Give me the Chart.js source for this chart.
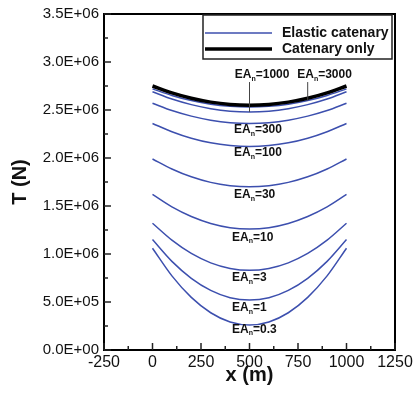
<!DOCTYPE html>
<html>
<head>
<meta charset="utf-8">
<script src="https://cdn.jsdelivr.net/npm/chart.js@4/dist/chart.umd.min.js"></script>
<style>
  html, body { margin: 0; padding: 0; background: #fff; }
  #wrap { width: 418px; height: 398px; }
</style>
</head>
<body>
<div id="wrap"><canvas id="c"></canvas></div>
<script>
// x positions along the line (m)
var xPos = [0, 100, 200, 300, 400, 500, 600, 700, 800, 900, 1000];

// tension, in units of 1E+06 N
var tCatenary = [2.75, 2.678, 2.622, 2.582, 2.558, 2.55, 2.558, 2.582, 2.622, 2.678, 2.75];
var tEA3000   = [2.72, 2.652, 2.598, 2.56, 2.538, 2.53, 2.538, 2.56, 2.598, 2.652, 2.72];
var tEA1000   = [2.69, 2.614, 2.556, 2.514, 2.488, 2.48, 2.488, 2.514, 2.556, 2.614, 2.69];
var tEA300    = [2.57, 2.494, 2.436, 2.394, 2.368, 2.36, 2.368, 2.394, 2.436, 2.494, 2.57];
var tEA100    = [2.36, 2.274, 2.206, 2.158, 2.13, 2.12, 2.13, 2.158, 2.206, 2.274, 2.36];
var tEA30     = [1.99, 1.886, 1.804, 1.746, 1.712, 1.70, 1.712, 1.746, 1.804, 1.886, 1.99];
var tEA10     = [1.62, 1.49, 1.39, 1.318, 1.274, 1.26, 1.274, 1.318, 1.39, 1.49, 1.62];
var tEA3      = [1.32, 1.144, 1.006, 0.908, 0.85, 0.83, 0.85, 0.908, 1.006, 1.144, 1.32];
var tEA1      = [1.15, 0.923, 0.747, 0.621, 0.545, 0.52, 0.545, 0.621, 0.747, 0.923, 1.15];
var tEA03     = [1.06, 0.772, 0.548, 0.388, 0.292, 0.26, 0.292, 0.388, 0.548, 0.772, 1.06];

var eaNames  = ['3000', '1000', '300', '100', '30', '10', '3', '1', '0.3'];
var eaSeries = [tEA3000, tEA1000, tEA300, tEA100, tEA30, tEA10, tEA3, tEA1, tEA03];

// curve labels: x (m) of left edge, T (N) of label centre line
var labelX = [746, 424, 420, 420, 420, 410, 410, 410, 410];
var labelT = [2.864e6, 2.864e6, 2.295e6, 2.053e6, 1.615e6, 1.173e6, 0.753e6, 0.442e6, 0.214e6];
// pointers: label index -> x of the point on its curve
var pointerAt = { 0: 800, 1: 500 };

var legendNames = ['Elastic catenary', 'Catenary only'];

var BLUE = '#3c4fae';
var FONT = '"Liberation Sans", Arial, sans-serif';

function toPts(arr) {
  return arr.map(function (t, i) { return { x: xPos[i], y: t * 1e6 }; });
}

var datasets = [{
  label: legendNames[1],
  data: toPts(tCatenary),
  borderColor: '#000',
  borderWidth: 3.5
}];
eaSeries.forEach(function (s, i) {
  datasets.push({ label: 'EA=' + eaNames[i], data: toPts(s), borderColor: BLUE, borderWidth: 1.5 });
});

function sciLabel(v) {
  var p = v.toExponential(1).split('e');
  var n = parseInt(p[1], 10);
  return p[0] + 'E' + (n < 0 ? '-' : '+') + String(Math.abs(n)).padStart(2, '0');
}

var decor = {
  id: 'decor',
  afterDatasetsDraw: function (chart) {
    var ctx = chart.ctx, a = chart.chartArea;
    var sx = chart.scales.x, sy = chart.scales.y;
    ctx.save();

    // frame top + right
    ctx.strokeStyle = '#000';
    ctx.lineWidth = 2;
    ctx.beginPath();
    ctx.moveTo(a.left, a.top);
    ctx.lineTo(a.right, a.top);
    ctx.lineTo(a.right, a.bottom);
    ctx.stroke();

    // inward ticks
    ctx.strokeStyle = '#222';
    ctx.lineWidth = 1.5;
    sy.ticks.forEach(function (t) {
      var py = sy.getPixelForValue(t.value);
      var len = t.label ? 7 : 4;
      ctx.beginPath(); ctx.moveTo(a.left, py); ctx.lineTo(a.left + len, py); ctx.stroke();
    });
    sx.ticks.forEach(function (t) {
      var px = sx.getPixelForValue(t.value);
      var len = t.label ? 7 : 4;
      ctx.beginPath(); ctx.moveTo(px, a.bottom); ctx.lineTo(px, a.bottom - len); ctx.stroke();
    });

    // curve labels
    ctx.fillStyle = '#111';
    ctx.textBaseline = 'middle';
    ctx.textAlign = 'left';
    eaNames.forEach(function (n, i) {
      var px = sx.getPixelForValue(labelX[i]);
      var py = sy.getPixelForValue(labelT[i]);
      ctx.font = 'bold 12px ' + FONT;
      ctx.fillText('EA', px, py);
      var w = ctx.measureText('EA').width;
      ctx.font = 'bold 7px ' + FONT;
      ctx.fillText('n', px + w, py + 4);
      var w2 = ctx.measureText('n').width;
      ctx.font = 'bold 12px ' + FONT;
      ctx.fillText('=' + n, px + w + w2, py);
      if (pointerAt[i] !== undefined) {
        var meta = chart.getDatasetMeta(i + 1);
        var el = meta.data[xPos.indexOf(pointerAt[i])];
        ctx.strokeStyle = '#444';
        ctx.lineWidth = 1;
        ctx.beginPath(); ctx.moveTo(el.x, py + 7); ctx.lineTo(el.x, el.y); ctx.stroke();
      }
    });

    // legend box
    var bx = a.right - 192, by = a.top + 1, bw = 189, bh = 44;
    ctx.fillStyle = '#fff';
    ctx.fillRect(bx, by, bw, bh);
    ctx.strokeStyle = '#222';
    ctx.lineWidth = 1.5;
    ctx.strokeRect(bx, by, bw, bh);
    var rows = [{ c: BLUE, w: 1.5, t: legendNames[0], y: by + 18 }, { c: '#000', w: 3.5, t: legendNames[1], y: by + 34 }];
    rows.forEach(function (r) {
      ctx.strokeStyle = r.c; ctx.lineWidth = r.w;
      ctx.beginPath(); ctx.moveTo(bx + 2, r.y); ctx.lineTo(bx + 69, r.y); ctx.stroke();
      ctx.fillStyle = '#111';
      ctx.font = 'bold 14px ' + FONT;
      ctx.fillText(r.t, bx + 79, r.y);
    });
    ctx.restore();
  }
};

new Chart(document.getElementById('c'), {
  type: 'line',
  data: { datasets: datasets },
  options: {
    responsive: true,
    maintainAspectRatio: false,
    animation: false,
    layout: { padding: { left: 0, right: 23, top: 12, bottom: 0 } },
    elements: { point: { radius: 0 }, line: { cubicInterpolationMode: 'monotone' } },
    plugins: { legend: { display: false }, tooltip: { enabled: false } },
    scales: {
      x: {
        type: 'linear',
        min: -250, max: 1250,
        afterFit: function (s) { s.height = 48; },
        grid: { drawOnChartArea: false, drawTicks: false },
        border: { color: '#000', width: 2 },
        ticks: {
          stepSize: 125, autoSkip: false, maxRotation: 0, padding: 3,
          color: '#111', font: { family: FONT, size: 16 },
          callback: function (v) { return v % 250 === 0 ? String(v) : ''; }
        },
        title: { display: true, text: 'x (m)', color: '#111', font: { family: FONT, size: 20, weight: 'bold' }, padding: { top: 0, bottom: 11 } }
      },
      y: {
        min: 0, max: 3.5e6,
        afterFit: function (s) { s.width = 104; },
        grid: { drawOnChartArea: false, drawTicks: false },
        border: { color: '#000', width: 2 },
        ticks: {
          stepSize: 250000, autoSkip: false, padding: 5,
          color: '#111', font: { family: FONT, size: 15 },
          callback: function (v) { return v % 500000 === 0 ? sciLabel(v) : ''; }
        },
        title: { display: true, text: 'T (N)', color: '#111', font: { family: FONT, size: 20, weight: 'bold' }, padding: { top: 8, bottom: 0 } }
      }
    }
  },
  plugins: [decor]
});
</script>
</body>
</html>
